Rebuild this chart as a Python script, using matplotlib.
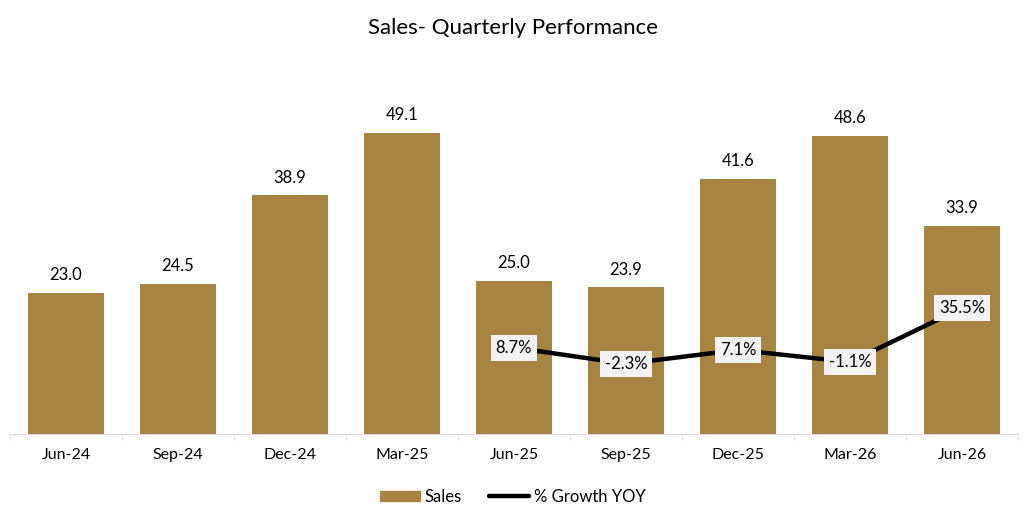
import numpy as np
import matplotlib.pyplot as plt
from matplotlib.patches import Patch
from matplotlib.lines import Line2D

quarters = ["Jun-24", "Sep-24", "Dec-24", "Mar-25", "Jun-25", "Sep-25", "Dec-25", "Mar-26", "Jun-26"]
sales = [23.0, 24.5, 38.9, 49.1, 25.0, 23.9, 41.6, 48.6, 33.9]
growth_quarters = ["Jun-25", "Sep-25", "Dec-25", "Mar-26", "Jun-26"]
growth_yoy = [8.7, -2.3, 7.1, -1.1, 35.5]

BAR_COLOR = "#A88443"
plt.rcParams["font.family"] = ["Lato", "DejaVu Sans"]

fig = plt.figure(figsize=(10.25, 5.23), dpi=100)
ax = fig.add_axes([10 / 1025, 1 - 434 / 523, 1008 / 1025, 368 / 523])
x = np.arange(len(quarters))
bars = ax.bar(x, sales, width=0.67, color=BAR_COLOR, zorder=2)
for b, v in zip(bars, sales):
    ax.annotate(f"{v:.1f}", (b.get_x() + b.get_width() / 2, v), xytext=(0, 7),
                textcoords="offset points", ha="center", va="bottom", fontsize=12)

ax.set_xlim(-0.5, len(quarters) - 0.5)
ax.set_ylim(0, 60)
ax.set_yticks([])
for s in ["top", "left", "right"]:
    ax.spines[s].set_visible(False)
ax.spines["bottom"].set_color("#D9D9D9")
ax.set_xticks(x)
ax.set_xticklabels(quarters, fontsize=11.5)
ax.tick_params(axis="x", length=0, pad=10)
ax.set_xticks(np.arange(len(quarters) + 1) - 0.5, minor=True)
ax.tick_params(axis="x", which="minor", length=5, color="#D9D9D9")

ax2 = ax.twinx()
gx = [quarters.index(q) for q in growth_quarters]
ax2.plot(gx, growth_yoy, color="black", lw=3.2, solid_capstyle="round", zorder=3)
for xi, v in zip(gx, growth_yoy):
    ax2.text(xi, v, f"{v:.1f}%", ha="center", va="center", fontsize=12, zorder=4,
             bbox=dict(boxstyle="square,pad=0.3", fc="#F2F2F2", ec="none"))
ax2.set_ylim(-50, 200)
ax2.set_yticks([])
for s in ax2.spines.values():
    s.set_visible(False)

fig.text(0.5, 1 - 28 / 523, "Sales- Quarterly Performance", ha="center", va="center", fontsize=16)

handles = [Patch(color=BAR_COLOR, label="Sales"),
           Line2D([0], [0], color="black", lw=3.2, solid_capstyle="round", label="% Growth YOY")]
fig.legend(handles=handles, loc="center", bbox_to_anchor=(0.5, 1 - 497 / 523), ncol=2,
           frameon=False, fontsize=12, handlelength=2.4, handleheight=0.6, columnspacing=1.6,
           handletextpad=0.3)

fig.savefig("out.png", dpi=100)
